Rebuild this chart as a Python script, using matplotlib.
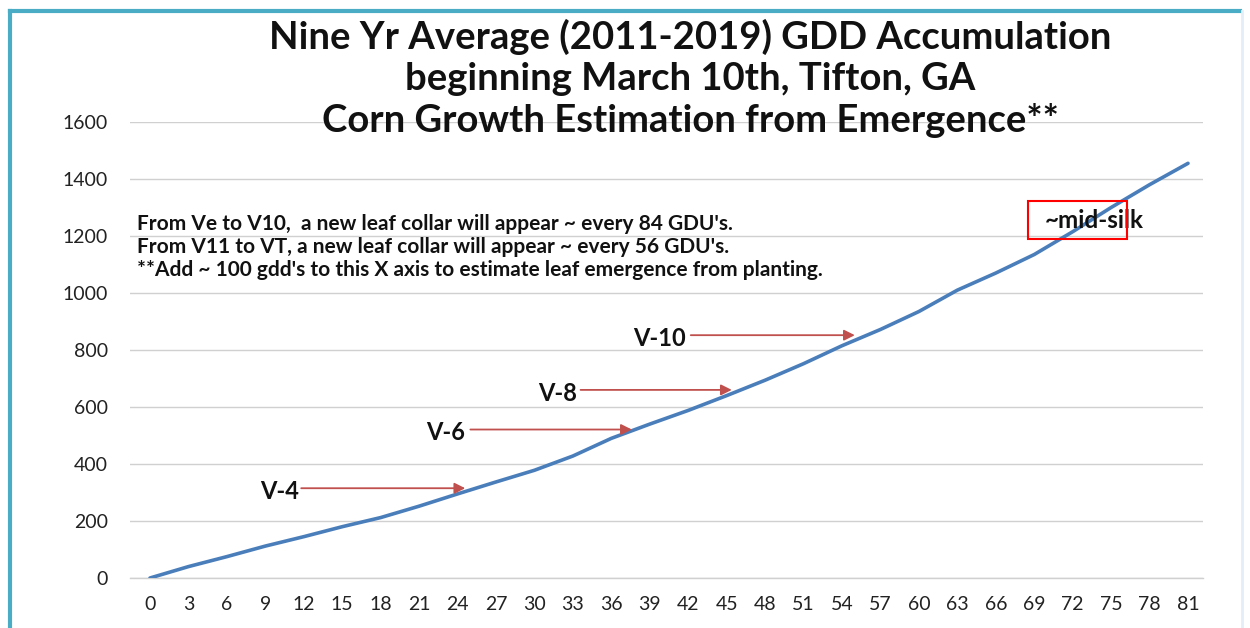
import matplotlib
matplotlib.use("Agg")
import matplotlib.pyplot as plt
from matplotlib.lines import Line2D

plt.rcParams['font.family'] = ['Lato', 'DejaVu Sans']

# ---- data ----
days = [0, 3, 6, 9, 12, 15, 18, 21, 24, 27, 30, 33, 36, 39, 42, 45, 48, 51, 54,
        57, 60, 63, 66, 69, 72, 75, 78, 81]
gdd = [0, 40, 75, 112, 145, 180, 212, 252, 295, 337, 378, 428, 490, 540, 588,
       640, 694, 752, 815, 872, 935, 1010, 1070, 1135, 1215, 1300, 1380, 1455]
x_ticks = list(range(0, 82, 3))
y_ticks = [0, 200, 400, 600, 800, 1000, 1200, 1400, 1600]

title_lines = ["Nine Yr Average (2011-2019) GDD Accumulation",
               "beginning March 10th, Tifton, GA",
               "Corn Growth Estimation from Emergence**"]
notes = ["From Ve to V10,  a new leaf collar will appear ~ every 84 GDU's.",
         "From V11 to VT, a new leaf collar will appear ~ every 56 GDU's.",
         "**Add ~ 100 gdd's to this X axis to estimate leaf emergence from planting."]
stages = ["V-4", "V-6", "V-8", "V-10"]
# (text x, text y, arrow start x, arrow tip x, arrow y) in data units
stage_pos = [(11.6, 305, 11.8, 24.6, 315),
             (24.6, 512, 25.0, 37.6, 521),
             (33.3, 649, 33.6, 45.4, 660),
             (41.8, 842, 42.2, 55.0, 852)]

fig = plt.figure(figsize=(12.5, 6.28), dpi=100)
ax = fig.add_axes([130/1250, 50/628, (1203-130)/1250, (578-122)/628])

ax.plot(days, gdd, color='#4A7EBB', lw=2.6, solid_capstyle='round', zorder=3)

ax.set_xlim(-1.56, 82.17)
ax.set_ylim(0, 1600)
ax.set_xticks(x_ticks)
ax.set_yticks(y_ticks)
ax.tick_params(axis='both', length=0, labelsize=14, colors='#222222')
ax.tick_params(axis='x', pad=13)
ax.tick_params(axis='y', pad=16)
ax.grid(axis='y', color='#D0D0D0', lw=1.0)
ax.set_axisbelow(True)
for s in ['top', 'right', 'left']:
    ax.spines[s].set_visible(False)
ax.spines['bottom'].set_color('#D0D0D0')
ax.spines['bottom'].set_linewidth(1.0)

for i, line in enumerate(title_lines):
    fig.text(0.552, 1 - (37 + 41.5*i)/628, line, ha='center', va='center',
             fontsize=27.5, fontweight='bold', color='#111111')

for i, line in enumerate(notes):
    fig.text(137/1250, 1 - (224 + 23*i)/628, line, ha='left', va='center',
             fontsize=15, fontweight='bold', color='#111111')

for lab, (tx, ty, ax0, ax1, ay) in zip(stages, stage_pos):
    ax.text(tx, ty, lab, ha='right', va='center', fontsize=17,
            fontweight='bold', color='#111111')
    ax.annotate('', xy=(ax1, ay), xytext=(ax0, ay),
                arrowprops=dict(arrowstyle='-|>', color='#C0504D', lw=1.3,
                                mutation_scale=16, shrinkA=0, shrinkB=0))

ax.text(69.8, 1253, "~mid-silk", ha='left', va='center', fontsize=17.5,
        fontweight='bold', color='#111111')
fig.add_artist(plt.Rectangle((1028/1250, 1 - 239/628), 99/1250, 38/628,
                             transform=fig.transFigure, fill=False,
                             edgecolor='#FF0000', lw=1.5))

# chart frame (teal top/left edge)
fig.add_artist(Line2D([10/1250, 1240/1250], [1 - 11/628, 1 - 11/628],
                      transform=fig.transFigure, color='#4BACC6', lw=3))
fig.add_artist(Line2D([10/1250, 10/1250], [0, 1 - 11/628],
                      transform=fig.transFigure, color='#4BACC6', lw=3))
fig.add_artist(Line2D([1242/1250, 1242/1250], [0, 1 - 11/628],
                      transform=fig.transFigure, color='#E4EEF6', lw=2))

fig.savefig("out.png", dpi=100)
